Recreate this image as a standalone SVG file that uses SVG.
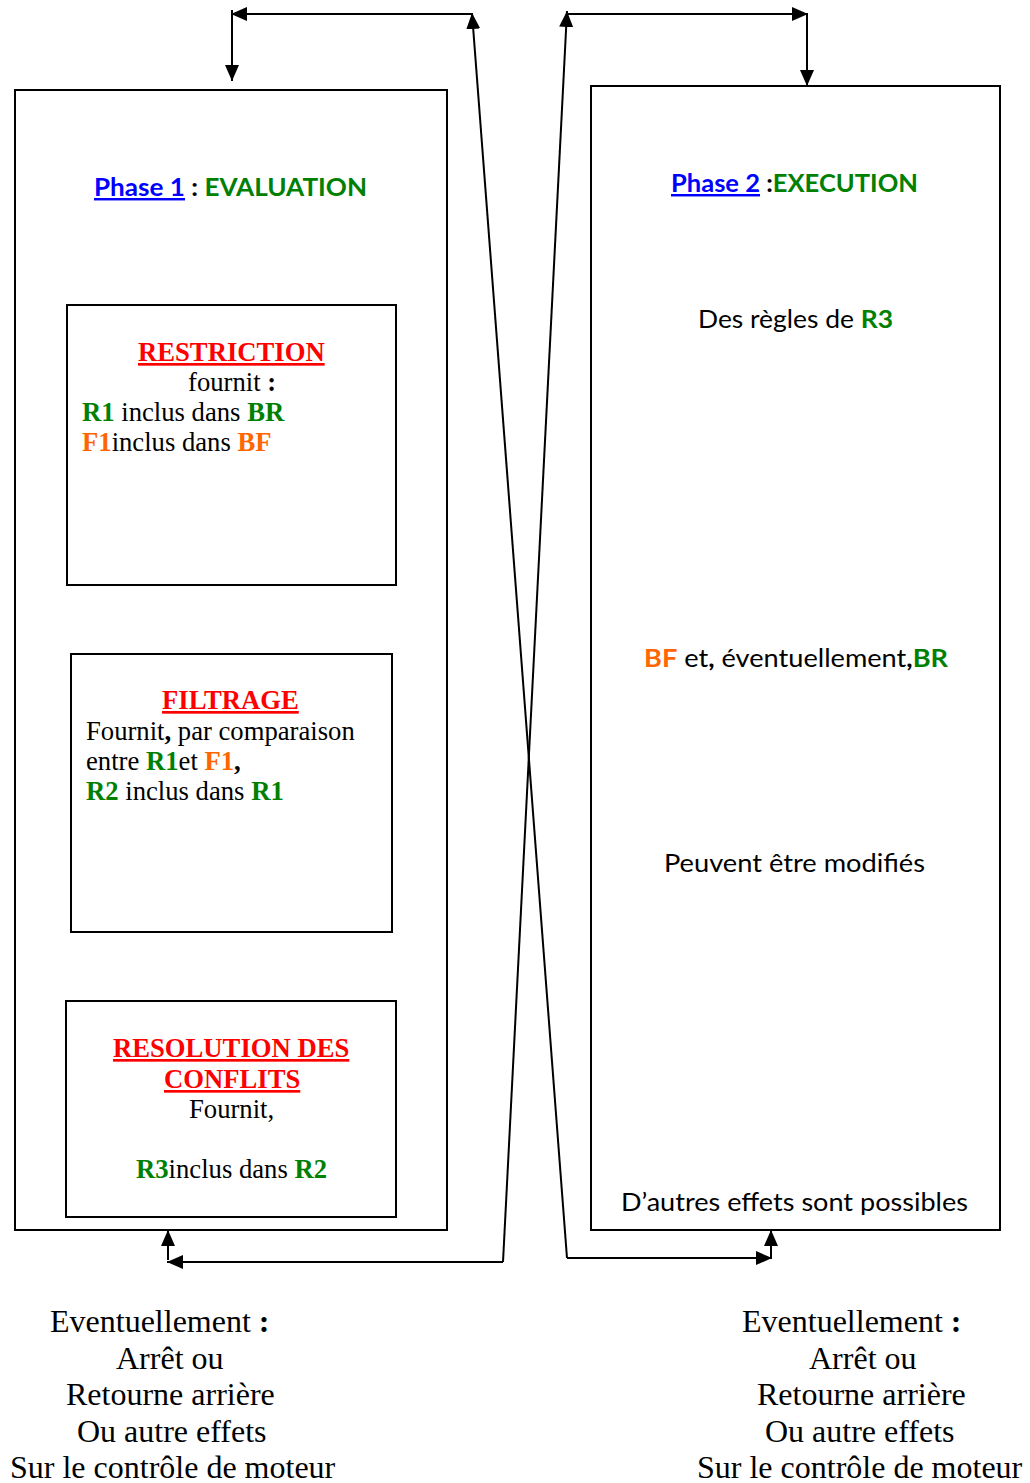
<svg xmlns="http://www.w3.org/2000/svg" width="1030" height="1483" viewBox="0 0 1030 1483">
  <style>
    .box { fill: none; stroke: #000; stroke-width: 2; }
    .conn { fill: none; stroke: #000; stroke-width: 2; }
    .serif { font-family: "Liberation Serif", "Times New Roman", serif; font-size: 26.67px; fill: #000; }
    .big { font-family: "Liberation Serif", "Times New Roman", serif; font-size: 32px; fill: #000; }
    .sans { font-family: Lato, "Noto Sans", sans-serif; font-size: 24.5px; fill: #000; }
    .b { font-weight: bold; }
    .red { fill: #ff0000; font-weight: bold; text-decoration: underline; }
    .grn { fill: #008000; font-weight: bold; }
    .org { fill: #ff6600; font-weight: bold; }
    .blu { fill: #0000ff; font-weight: bold; text-decoration: underline; }
  </style>
  <defs>
    <marker id="ah" viewBox="0 0 16 14" refX="16" refY="7" markerWidth="16" markerHeight="14" markerUnits="userSpaceOnUse" orient="auto">
      <path d="M0,0 L16,7 L0,14 z" fill="#000"/>
    </marker>
  </defs>

  <rect width="1030" height="1483" fill="#fff"/>

  <!-- Phase 1 container -->
  <g id="phase1">
    <rect class="box" x="15" y="90" width="432" height="1140"/>
    <text class="sans" x="94" y="196" textLength="273" lengthAdjust="spacingAndGlyphs"><tspan class="blu">Phase 1</tspan><tspan class="b"> : </tspan><tspan class="grn">EVALUATION</tspan></text>
  </g>

  <g id="restriction">
    <rect class="box" x="67" y="305" width="329" height="280"/>
    <text class="serif" x="138" y="361"><tspan class="red">RESTRICTION</tspan></text>
    <text class="serif" x="188" y="391">fournit <tspan class="b">:</tspan></text>
    <text class="serif" x="82" y="421"><tspan class="grn">R1</tspan> inclus dans <tspan class="grn">BR</tspan></text>
    <text class="serif" x="82" y="451"><tspan class="org">F1</tspan>inclus dans <tspan class="org">BF</tspan></text>
  </g>

  <g id="filtrage">
    <rect class="box" x="71" y="654" width="321" height="278"/>
    <text class="serif" x="162" y="709"><tspan class="red">FILTRAGE</tspan></text>
    <text class="serif" x="86" y="740">Fournit<tspan class="b">,</tspan> par comparaison</text>
    <text class="serif" x="86" y="770">entre <tspan class="grn">R1</tspan>et <tspan class="org">F1</tspan><tspan class="b">,</tspan></text>
    <text class="serif" x="86" y="800"><tspan class="grn">R2</tspan> inclus dans <tspan class="grn">R1</tspan></text>
  </g>

  <g id="resolution">
    <rect class="box" x="66" y="1001" width="330" height="216"/>
    <text class="serif" x="113" y="1057"><tspan class="red">RESOLUTION DES</tspan></text>
    <text class="serif" x="164" y="1088"><tspan class="red">CONFLITS</tspan></text>
    <text class="serif" x="189" y="1118">Fournit,</text>
    <text class="serif" x="136" y="1178"><tspan class="grn">R3</tspan>inclus dans <tspan class="grn">R2</tspan></text>
  </g>

  <!-- Phase 2 container -->
  <g id="phase2">
    <rect class="box" x="591" y="86" width="409" height="1144"/>
    <text class="sans" x="671" y="192" textLength="247" lengthAdjust="spacingAndGlyphs"><tspan class="blu">Phase 2</tspan><tspan class="b"> :</tspan><tspan class="grn">EXECUTION</tspan></text>
    <text class="sans" x="698" y="328" textLength="195" lengthAdjust="spacingAndGlyphs">Des règles de <tspan class="grn">R3</tspan></text>
    <text class="sans" x="644" y="667" textLength="304" lengthAdjust="spacingAndGlyphs"><tspan class="org">BF</tspan> et<tspan class="b">,</tspan> éventuellement<tspan class="b">,</tspan><tspan class="grn">BR</tspan></text>
    <text class="sans" x="664" y="872" textLength="261" lengthAdjust="spacingAndGlyphs">Peuvent être modifiés</text>
    <text class="sans" x="621" y="1211" textLength="347" lengthAdjust="spacingAndGlyphs">D’autres effets sont possibles</text>
  </g>

  <!-- Outcome notes under each phase -->
  <g id="note-left">
    <text class="big" x="50" y="1332">Eventuellement <tspan class="b">:</tspan></text>
    <text class="big" x="116" y="1369">Arrêt ou</text>
    <text class="big" x="66" y="1405">Retourne arrière</text>
    <text class="big" x="77" y="1442">Ou autre effets</text>
    <text class="big" x="10" y="1478">Sur le contrôle de moteur</text>
  </g>
  <g id="note-right">
    <text class="big" x="742" y="1332">Eventuellement <tspan class="b">:</tspan></text>
    <text class="big" x="809" y="1369">Arrêt ou</text>
    <text class="big" x="757" y="1405">Retourne arrière</text>
    <text class="big" x="765" y="1442">Ou autre effets</text>
    <text class="big" x="697" y="1478">Sur le contrôle de moteur</text>
  </g>

  <!-- Connectors -->
  <g id="connectors">
    <path class="conn" d="M472,14 H231" marker-end="url(#ah)"/>
    <path class="conn" d="M232,10 V81" marker-end="url(#ah)"/>
    <path class="conn" d="M567,1258 L472,13" marker-end="url(#ah)"/>
    <path class="conn" d="M503,1262 L567,11" marker-end="url(#ah)"/>
    <path class="conn" d="M567,14 H808" marker-end="url(#ah)"/>
    <path class="conn" d="M807,14 V86" marker-end="url(#ah)"/>
    <path class="conn" d="M503,1262 H167" marker-end="url(#ah)"/>
    <path class="conn" d="M168,1260 V1230" marker-end="url(#ah)"/>
    <path class="conn" d="M567,1258 H772" marker-end="url(#ah)"/>
    <path class="conn" d="M771,1258 V1230" marker-end="url(#ah)"/>
  </g>
</svg>
